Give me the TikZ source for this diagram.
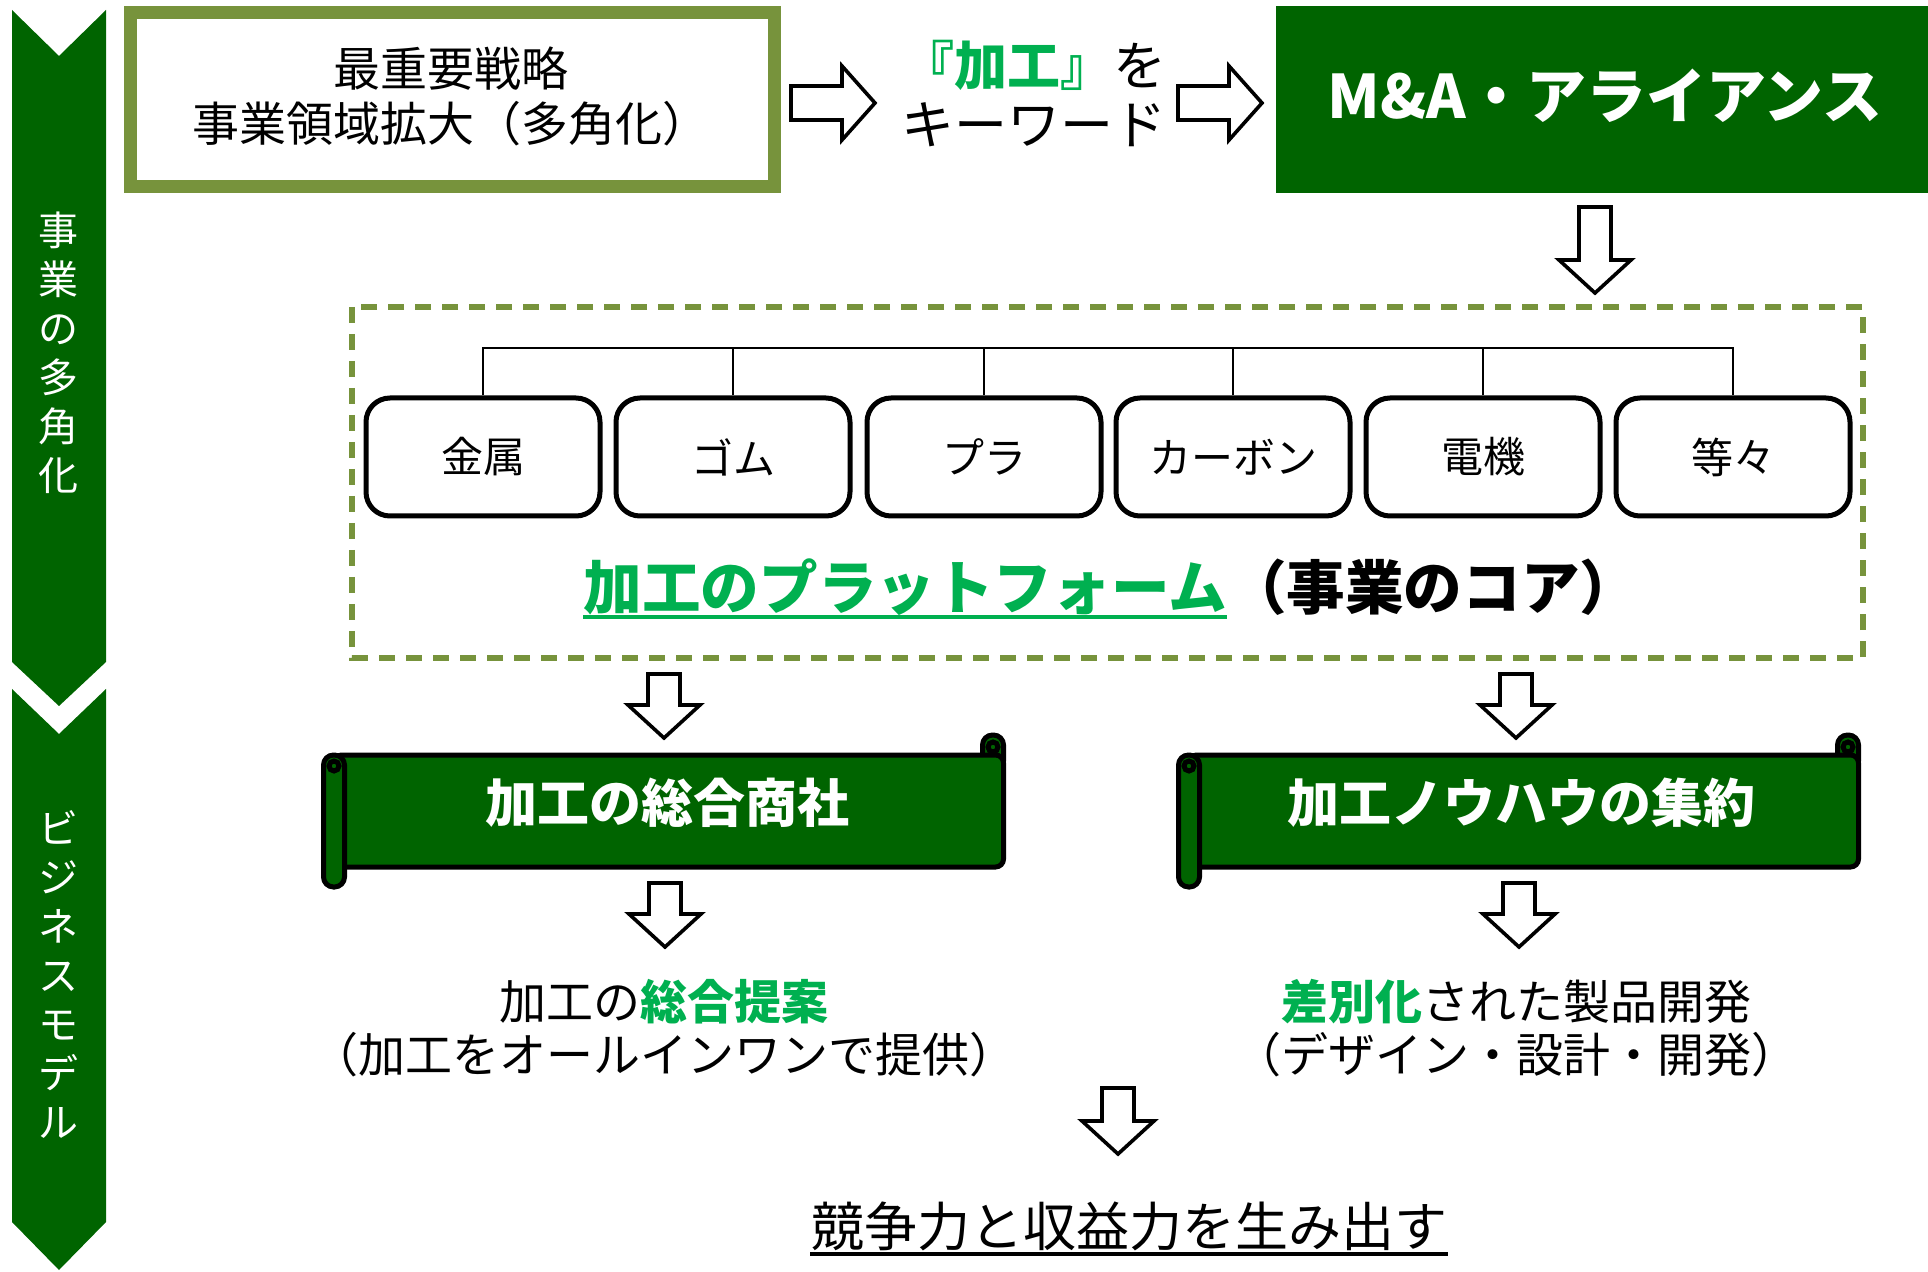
\documentclass[tikz,border=0pt]{standalone}
\usepackage{fontspec}
\setmainfont{Noto Sans CJK JP}

\definecolor{bandgreen}{RGB}{0,100,0}
\definecolor{olivebd}{RGB}{119,147,60}
\definecolor{keygreen}{RGB}{0,176,80}

\tikzset{every picture/.style={line width=0.75pt}}
\tikzset{
  blockarr/.style={draw=black, fill=white, line width=1.8pt, line join=miter},
  catbox/.style={draw, line width=2.5pt, rounded corners=12pt, minimum width=117pt, minimum height=59pt, inner sep=0pt, font=\fontsize{21}{25}\selectfont},
  scrollpart/.style={draw=black, fill=bandgreen, line width=2.5pt},
  % pics run with y pointing up
  pics/dnarrow/.style={code={
    \draw[blockarr] (-16,#1) -- (16,#1) -- (16,33-#1) -- (36,33-#1) -- (0,-#1) -- (-36,33-#1) -- (-16,33-#1) -- cycle;
  }},
  pics/rtarrow/.style={code={
    \draw[blockarr] (-#1,-17) -- (#1-33,-17) -- (#1-33,-37) -- (#1,0) -- (#1-33,37) -- (#1-33,17) -- (-#1,17) -- cycle;
  }},
  pics/banner/.style={code={
    \draw[scrollpart, rounded corners=5pt] (319,76) rectangle (340,40);
    \draw[scrollpart, rounded corners=4pt] (-330,56) -- (340,56) -- (340,-56) -- (-330,-56) -- cycle;
    \draw[scrollpart] (329.5,64) circle (5);
    \draw[scrollpart, rounded corners=5pt] (-340,56) rectangle (-319,-76);
    \draw[scrollpart] (-329.5,45) circle (5);
  }},
}

\begin{document}
\begin{tikzpicture}[x=0.5pt,y=0.5pt,yscale=-1]
\useasboundingbox (0,0) rectangle (1928,1272);

%Side bands
\fill[bandgreen] (12,10) -- (59,56) -- (106,10) -- (106,662) -- (59,706) -- (12,662) -- cycle;
\fill[bandgreen] (12,689) -- (59,734) -- (106,689) -- (106,1222) -- (59,1270) -- (12,1222) -- cycle;

%Top boxes
\draw[olivebd, line width=6.5pt] (130,13) rectangle (774,187);
\fill[bandgreen] (1276,6) rectangle (1928,193);

%Block arrows
\pic at (833,103) {rtarrow=42};
\pic at (1220,103) {rtarrow=42};
\pic at (1595,250) {dnarrow=43};
\pic at (664,706) {dnarrow=32};
\pic at (1516,706) {dnarrow=32};
\pic at (665,915) {dnarrow=32};
\pic at (1519,915) {dnarrow=32};
\pic at (1118,1121) {dnarrow=33};

%Dashed frame
\draw[olivebd, line width=3pt, dash pattern=on 8pt off 5.5pt] (352,307) rectangle (1863,658);

%Materials
\coordinate (bus) at (0,348);
\draw (483,457) node [catbox] (metal) {金属};
\draw (733,457) node [catbox] (rubber) {ゴム};
\draw (984,457) node [catbox] (plastic) {プラ};
\draw (1233,457) node [catbox] (carbon) {カーボン};
\draw (1483,457) node [catbox] (motor) {電機};
\draw (1733,457) node [catbox] (other) {等々};
\draw[line width=1.2pt] (metal.north) |- (bus -| other.north) -- (other.north);
\foreach \m in {rubber,plastic,carbon,motor}
  \draw[line width=1.2pt] (\m.north) -- (\m.north |- bus);

%Scrolls
\pic at (663.5,811) {banner};
\pic at (1518.5,811) {banner};

% Text Node
\draw (59,353) node [align=center, inner sep=0pt, text=white, font=\fontsize{20}{24.5}\selectfont] (diversify) {事\\業\\の\\多\\角\\化};
% Text Node
\draw (59,974) node [align=center, inner sep=0pt, text=white, font=\fontsize{20}{24.5}\selectfont] (model) {ビ\\ジ\\ネ\\ス\\モ\\デ\\ル};
% Text Node
\draw (451,96) node [align=center, inner sep=0.75pt, font=\fontsize{23.5}{27.5}\selectfont] (goal) {最重要戦略\\事業領域拡大（多角化）};
% Text Node
\draw (1034,94) node [align=center, inner sep=0.75pt, font=\fontsize{26.5}{29.5}\selectfont] (keyword) {{\color{keygreen}\bfseries 『加工』}を\\キーワード};
% Text Node
\draw (1605,96) node [inner sep=0.75pt, text=white, font=\fontsize{30}{36}\selectfont\bfseries] (alliance) {M\&A・アライアンス};
% Text Node
\draw (583,587) node [anchor=west, inner sep=0pt, text=keygreen, font=\fontsize{29.3}{34}\selectfont\bfseries] (platform) {加工のプラットフォーム};
\draw (platform.east) node [anchor=west, inner sep=0pt, font=\fontsize{29.3}{34}\selectfont\bfseries] (core) {（事業のコア）};
\draw[keygreen, line width=1.6pt] (platform.west |- 0,617) -- (platform.east |- 0,617);
% Text Node
\draw (667,803) node [inner sep=0.75pt, text=white, font=\fontsize{26}{32}\selectfont\bfseries] (trading) {加工の総合商社};
% Text Node
\draw (1521,803) node [inner sep=0.75pt, text=white, font=\fontsize{26}{32}\selectfont\bfseries] (knowhow) {加工ノウハウの集約};
% Text Node
\draw (664,1028) node [align=center, inner sep=0.75pt, font=\fontsize{23.5}{26.5}\selectfont] (offer) {加工の{\color{keygreen}\bfseries 総合提案}\\（加工をオールインワンで提供）};
% Text Node
\draw (1516,1028) node [align=center, inner sep=0.75pt, font=\fontsize{23.5}{26.5}\selectfont] (develop) {{\color{keygreen}\bfseries 差別化}された製品開発\\（デザイン・設計・開発）};
% Text Node
\draw (1129,1226) node [inner sep=0pt, font=\fontsize{26.5}{32}\selectfont] (result) {競争力と収益力を生み出す};
\draw[line width=1.6pt] (result.west |- 0,1254) -- (result.east |- 0,1254);

\end{tikzpicture}
\end{document}
